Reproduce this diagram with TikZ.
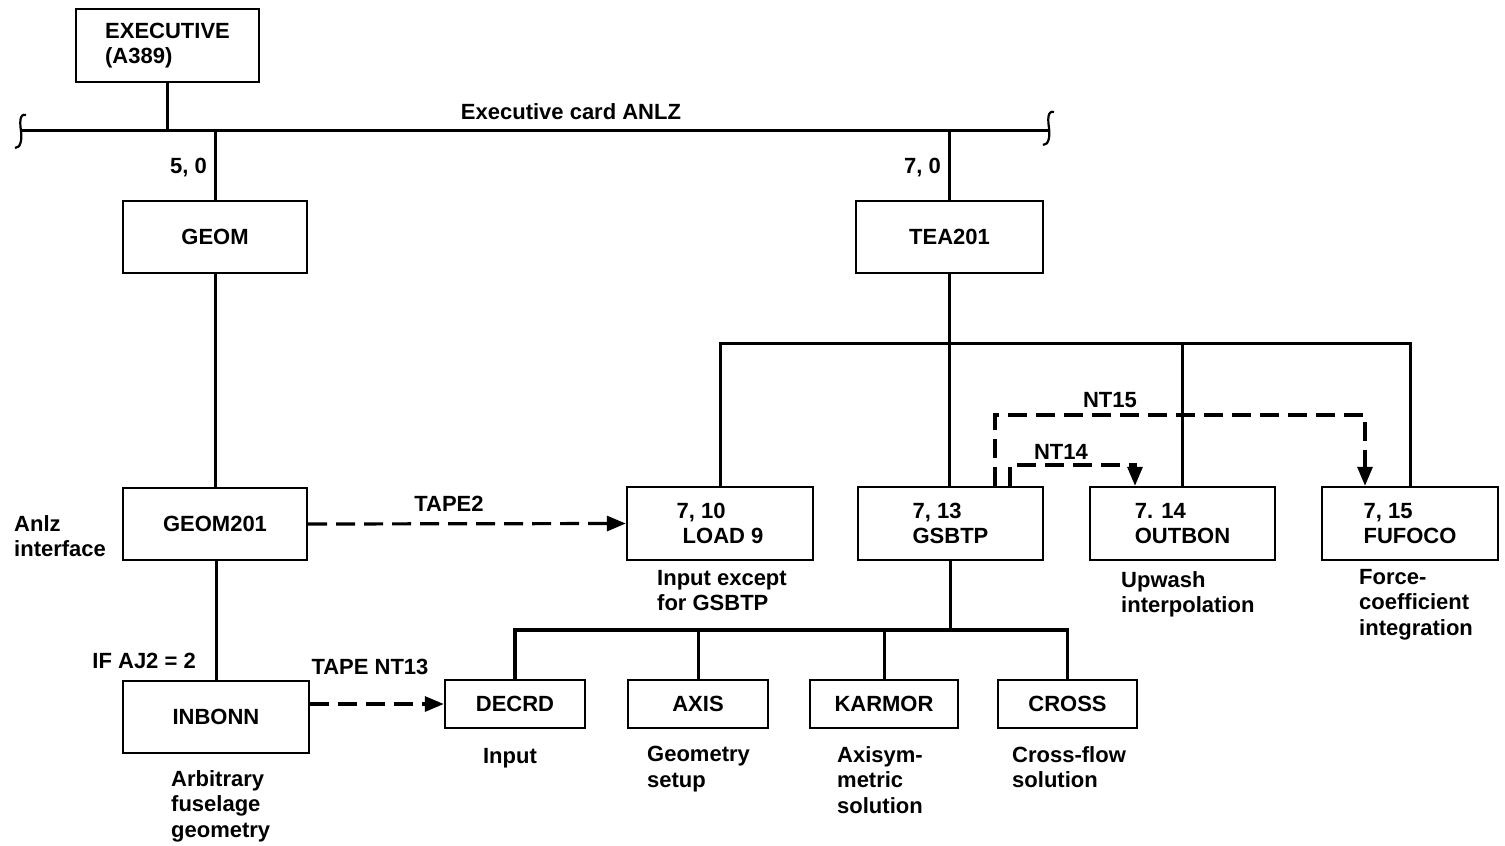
\documentclass[tikz,border=0pt]{standalone}
\usepackage{fontspec}
\setmainfont{Liberation Sans}
\usetikzlibrary{arrows.meta}
\tikzset{
  lbl/.style={font=\fontsize{22}{25.5}\selectfont\bfseries, inner sep=0pt},
  box/.style={lbl, draw, line width=2.4pt, align=left},
  conn/.style={line width=3pt},
  tape/.style={line width=3.2pt, dash pattern=on 19pt off 9pt, -{Triangle[length=19pt,width=15pt]}},
  desc/.style={lbl, align=left, anchor=north west},
  brk/.style={line width=2.2pt}
}
\begin{document}
\begin{tikzpicture}[x=1pt,y=-1pt]
\useasboundingbox (0,0) rectangle (1505,846);
% boxes
\node[box, minimum width=183pt, minimum height=73pt] (exec) at (167.5,45.5) {EXECUTIVE\\(A389)};
\node[box, minimum width=184pt, minimum height=72pt] (geom) at (215,237) {GEOM};
\node[box, minimum width=184pt, minimum height=72pt] (geom201) at (215,524) {GEOM201};
\node[box, minimum width=186pt, minimum height=72pt] (inbonn) at (216,717) {INBONN};
\node[box, minimum width=187pt, minimum height=72pt] (tea) at (949.5,237) {TEA201};
\node[box, minimum width=186pt, minimum height=73pt] (load) at (720,523.5) {7, 10\\\ LOAD 9};
\node[box, minimum width=185pt, minimum height=73pt] (gsbtp) at (950.5,523.5) {7, 13\\GSBTP};
\node[box, minimum width=185pt, minimum height=73pt] (outbon) at (1182.5,523.5) {7. 14\\OUTBON};
\node[box, minimum width=176pt, minimum height=73pt] (fufoco) at (1410,523.5) {7, 15\\FUFOCO};
\node[box, minimum width=140pt, minimum height=48pt] (decrd) at (515,704) {DECRD};
\node[box, minimum width=140pt, minimum height=48pt] (axis) at (698,704) {AXIS};
\node[box, minimum width=148pt, minimum height=48pt] (karmor) at (884,704) {KARMOR};
\node[box, minimum width=139pt, minimum height=48pt] (cross) at (1067.5,704) {CROSS};
% executive bus
\coordinate (busL) at (21,130);
\coordinate (busR) at (1049,130);
\draw[conn] (busL) -- (busR);
\draw[brk] (26,115) .. controls (19,113) and (20,124) .. (21,131) .. controls (22,139) and (21,148) .. (15,148);
\draw[brk] (1054,112) .. controls (1047,110) and (1048,121) .. (1049,128) .. controls (1050,136) and (1049,145) .. (1043,145);
\draw[conn] (exec.south) -- (exec.south |- busL);
\draw[conn] (geom.north) -- (geom.north |- busL);
\draw[conn] (tea.north) -- (tea.north |- busL);
\draw[conn] (geom.south) -- (geom201.north);
\draw[conn] (geom201.south) -- (geom201.south -| inbonn.north) -- (inbonn.north);
% upper bus
\coordinate (ub) at (900,343);
\draw[conn] (load.north) |- (fufoco.north |- ub) -- (fufoco.north);
\draw[conn] (outbon.north) -- (outbon.north |- ub);
\draw[conn] (tea.south) -- (tea.south |- gsbtp.north);
% lower bus
\coordinate (lb) at (900,630);
\draw[conn, line width=3.6pt] (decrd.north) |- (cross.north |- lb) -- (cross.north);
\draw[conn] (axis.north) -- (axis.north |- lb);
\draw[conn] (karmor.north) -- (karmor.north |- lb);
\draw[conn] (gsbtp.south) -- (gsbtp.south |- lb);
% tapes
\draw[tape] (geom201.east) -- (load.west);
\draw[tape] (inbonn.east |- decrd.west) -- (decrd.west);
\coordinate (n15a) at (995,415);
\coordinate (n15b) at (1365,415);
\coordinate (n14a) at (1010,465);
\coordinate (n14b) at (1135,465);
\draw[tape] (gsbtp.north -| n15a) -- (n15a) -- (n15b) -- (n15b |- fufoco.north);
\draw[tape] (gsbtp.north -| n14a) -- (n14a) -- (n14b) -- (n14b |- outbon.north);
% labels
\node[lbl] (lanlz) at (571,112) {Executive card ANLZ};
\node[lbl, anchor=east] (l50) at (207,168) {5, 0};
\node[lbl, anchor=east] (l70) at (941,168) {7, 0};
\node[lbl] (ltape2) at (449,504) {TAPE2};
\node[lbl] (lnt13) at (370,667) {TAPE NT13};
\node[lbl, anchor=east] (laj) at (196,661) {IF AJ2 = 2};
\node[desc] (lanlzif) at (14,515) {Anlz\\interface};
\node[lbl] (lnt15) at (1110,400) {NT15};
\node[lbl] (lnt14) at (1061,452) {NT14};
\node[desc] (dload) at (657,570) {Input except\\for GSBTP};
\node[desc] (doutbon) at (1121,571) {Upwash\\interpolation};
\node[desc] (dfufoco) at (1359,569) {Force-\\coefficient\\integration};
\node[desc] (dinbonn) at (171,770) {Arbitrary\\fuselage\\geometry};
\node[lbl] (ddecrd) at (510,758) {Input};
\node[desc] (daxis) at (647,746) {Geometry\\setup};
\node[desc] (dkarmor) at (837,746) {Axisym-\\metric\\solution};
\node[desc] (dcross) at (1012,746) {Cross-flow\\solution};
\end{tikzpicture}
\end{document}
